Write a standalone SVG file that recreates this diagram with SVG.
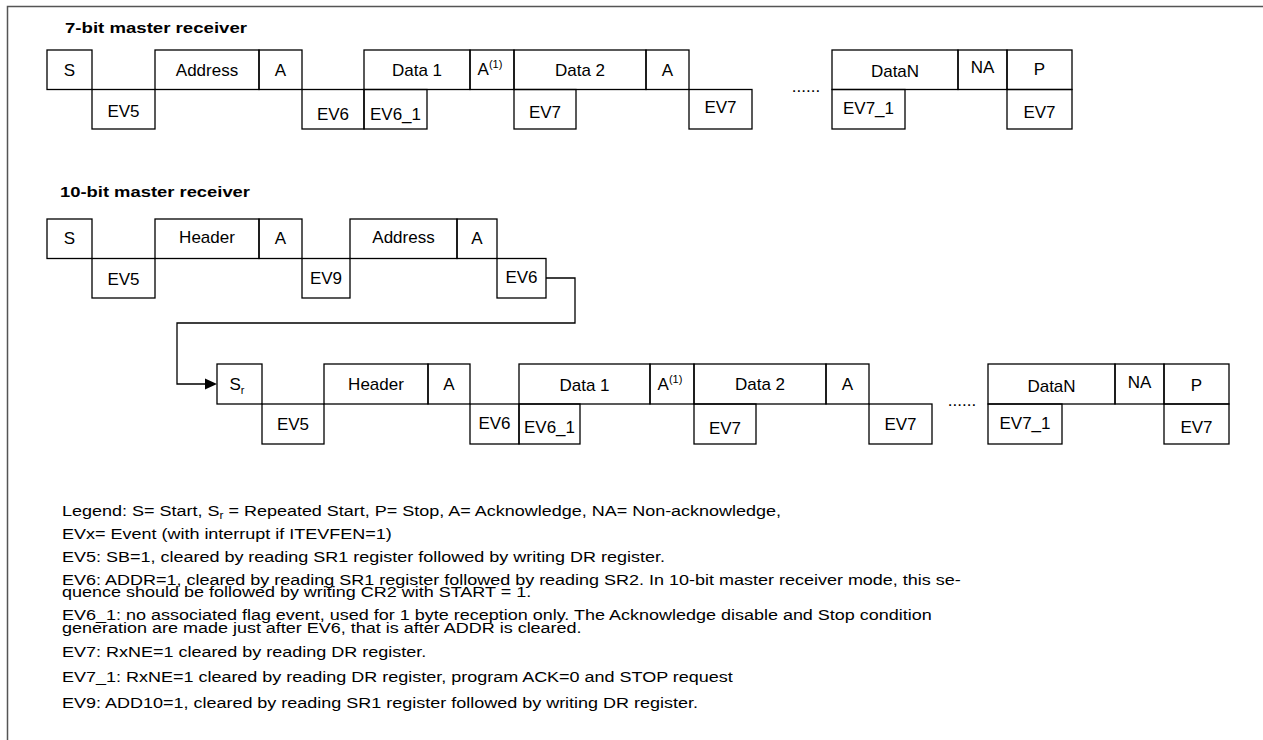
<svg xmlns="http://www.w3.org/2000/svg" width="1263" height="740" viewBox="0 0 1263 740">
<style>
.frame{fill:none;stroke:#555;stroke-width:1.5}
.box{fill:none;stroke:#000;stroke-width:1.3}
.conn{fill:none;stroke:#000;stroke-width:1.3}
text{font-family:"Liberation Sans",Arial,sans-serif;fill:#000}
.lbl{font-size:17px;text-anchor:middle}
.sup{font-size:11px}
.title{font-size:15px;font-weight:bold}
.leg{font-size:15px}
</style>
<rect x="0" y="0" width="1263" height="740" fill="#fff"/>
<path class="frame" d="M7.5,740 V6.5 H1263"/>

<text class="title" x="65" y="33" textLength="182" lengthAdjust="spacingAndGlyphs">7-bit master receiver</text>
<text class="title" x="60" y="197" textLength="190" lengthAdjust="spacingAndGlyphs">10-bit master receiver</text>

<g id="row7">
<g id="r1-S"><rect class="box" x="47" y="50" width="45" height="39.5"/><text class="lbl" x="69.5" y="76">S</text></g>
<g id="r1-EV5"><rect class="box" x="92" y="89.5" width="63" height="39.5"/><text class="lbl" x="123.5" y="117">EV5</text></g>
<g id="r1-Address"><rect class="box" x="155" y="50" width="104" height="39.5"/><text class="lbl" x="207" y="76">Address</text></g>
<g id="r1-A1"><rect class="box" x="259" y="50" width="43" height="39.5"/><text class="lbl" x="280.5" y="76">A</text></g>
<g id="r1-EV6"><rect class="box" x="302" y="89.5" width="62" height="39.5"/><text class="lbl" x="333" y="120">EV6</text></g>
<g id="r1-Data1"><rect class="box" x="364" y="50" width="106" height="39.5"/><text class="lbl" x="417" y="76">Data 1</text></g>
<g id="r1-EV6_1"><rect class="box" x="364" y="89.5" width="63" height="39.5"/><text class="lbl" x="395.5" y="120">EV6_1</text></g>
<g id="r1-A1sup"><rect class="box" x="470" y="50" width="44" height="39.5"/><text class="lbl" x="490" y="75">A<tspan class="sup" dy="-7">(1)</tspan></text></g>
<g id="r1-Data2"><rect class="box" x="514" y="50" width="132" height="39.5"/><text class="lbl" x="580" y="76">Data 2</text></g>
<g id="r1-EV7a"><rect class="box" x="514" y="89.5" width="62" height="39.5"/><text class="lbl" x="545" y="118">EV7</text></g>
<g id="r1-A2"><rect class="box" x="646" y="50" width="43" height="39.5"/><text class="lbl" x="667.5" y="76">A</text></g>
<g id="r1-EV7b"><rect class="box" x="689" y="89.5" width="63" height="39.5"/><text class="lbl" x="720.5" y="113">EV7</text></g>
<text class="lbl" x="806" y="92">......</text>
<g id="r1-DataN"><rect class="box" x="832" y="50" width="126" height="39.5"/><text class="lbl" x="895" y="77">DataN</text></g>
<g id="r1-NA"><rect class="box" x="958" y="50" width="49" height="39.5"/><text class="lbl" x="982.5" y="73">NA</text></g>
<g id="r1-P"><rect class="box" x="1007" y="50" width="65" height="39.5"/><text class="lbl" x="1039.5" y="75">P</text></g>
<g id="r1-EV7_1"><rect class="box" x="832" y="89.5" width="73" height="39.5"/><text class="lbl" x="868.5" y="114">EV7_1</text></g>
<g id="r1-EV7c"><rect class="box" x="1007" y="89.5" width="65" height="39.5"/><text class="lbl" x="1039.5" y="118">EV7</text></g>
</g>

<g id="row10">
<g id="r2-S"><rect class="box" x="47" y="219" width="45" height="39.5"/><text class="lbl" x="69.5" y="244">S</text></g>
<g id="r2-EV5"><rect class="box" x="92" y="258.5" width="63" height="39.5"/><text class="lbl" x="123.5" y="285">EV5</text></g>
<g id="r2-Header"><rect class="box" x="155" y="219" width="104" height="39.5"/><text class="lbl" x="207" y="243">Header</text></g>
<g id="r2-A1"><rect class="box" x="259" y="219" width="43" height="39.5"/><text class="lbl" x="280.5" y="244">A</text></g>
<g id="r2-EV9"><rect class="box" x="302" y="258.5" width="48" height="39.5"/><text class="lbl" x="326" y="284">EV9</text></g>
<g id="r2-Address"><rect class="box" x="350" y="219" width="107" height="39.5"/><text class="lbl" x="403.5" y="243">Address</text></g>
<g id="r2-A2"><rect class="box" x="457" y="219" width="40" height="39.5"/><text class="lbl" x="477" y="244">A</text></g>
<g id="r2-EV6"><rect class="box" x="497" y="258.5" width="49" height="39.5"/><text class="lbl" x="521.5" y="283">EV6</text></g>
</g>

<g id="connectors">
<path class="conn" d="M546,278 H575 V323 H177 V384 H206"/>
<polygon points="217,384 205,378.5 205,389.5" fill="#000"/>
</g>

<g id="rowSr">
<g id="r3-Sr"><rect class="box" x="217" y="364" width="45" height="40"/><text class="lbl" x="237" y="390">S<tspan class="sup" dy="4">r</tspan></text></g>
<g id="r3-EV5"><rect class="box" x="262" y="404" width="62" height="40"/><text class="lbl" x="293" y="430">EV5</text></g>
<g id="r3-Header"><rect class="box" x="324" y="364" width="104" height="40"/><text class="lbl" x="376" y="390">Header</text></g>
<g id="r3-A1"><rect class="box" x="428" y="364" width="42" height="40"/><text class="lbl" x="449" y="390">A</text></g>
<g id="r3-EV6"><rect class="box" x="470" y="404" width="49" height="40"/><text class="lbl" x="494.5" y="429">EV6</text></g>
<g id="r3-Data1"><rect class="box" x="519" y="364" width="131" height="40"/><text class="lbl" x="584.5" y="391">Data 1</text></g>
<g id="r3-EV6_1"><rect class="box" x="519" y="404" width="61" height="40"/><text class="lbl" x="549.5" y="433">EV6_1</text></g>
<g id="r3-A1sup"><rect class="box" x="650" y="364" width="44" height="40"/><text class="lbl" x="670" y="390">A<tspan class="sup" dy="-7">(1)</tspan></text></g>
<g id="r3-Data2"><rect class="box" x="694" y="364" width="132" height="40"/><text class="lbl" x="760" y="390">Data 2</text></g>
<g id="r3-EV7a"><rect class="box" x="694" y="404" width="62" height="40"/><text class="lbl" x="725" y="434">EV7</text></g>
<g id="r3-A2"><rect class="box" x="826" y="364" width="43" height="40"/><text class="lbl" x="847.5" y="390">A</text></g>
<g id="r3-EV7b"><rect class="box" x="869" y="404" width="63" height="40"/><text class="lbl" x="900.5" y="430">EV7</text></g>
<text class="lbl" x="962" y="406">......</text>
<g id="r3-DataN"><rect class="box" x="988" y="364" width="127" height="40"/><text class="lbl" x="1051.5" y="392">DataN</text></g>
<g id="r3-NA"><rect class="box" x="1115" y="364" width="49" height="40"/><text class="lbl" x="1139.5" y="388">NA</text></g>
<g id="r3-P"><rect class="box" x="1164" y="364" width="65" height="40"/><text class="lbl" x="1196.5" y="391">P</text></g>
<g id="r3-EV7_1"><rect class="box" x="988" y="404" width="74" height="40"/><text class="lbl" x="1025" y="429">EV7_1</text></g>
<g id="r3-EV7c"><rect class="box" x="1164" y="404" width="65" height="40"/><text class="lbl" x="1196.5" y="433">EV7</text></g>
</g>

<g id="legend" transform="translate(62,0) scale(1.2,1)">
<text class="leg" x="0" y="516">Legend: S= Start, S<tspan font-size="10" dy="3">r</tspan><tspan dy="-3"> = Repeated Start, P= Stop, A= Acknowledge, NA= Non-acknowledge,</tspan></text>
<text class="leg" x="0" y="539">EVx= Event (with interrupt if ITEVFEN=1)</text>
<text class="leg" x="0" y="562">EV5: SB=1, cleared by reading SR1 register followed by writing DR register.</text>
<text class="leg" x="0" y="585">EV6: ADDR=1, cleared by reading SR1 register followed by reading SR2. In 10-bit master receiver mode, this se-</text>
<text class="leg" x="0" y="597">quence should be followed by writing CR2 with START = 1.</text>
<text class="leg" x="0" y="620">EV6_1: no associated flag event, used for 1 byte reception only. The Acknowledge disable and Stop condition</text>
<text class="leg" x="0" y="633">generation are made just after EV6, that is after ADDR is cleared.</text>
<text class="leg" x="0" y="657">EV7: RxNE=1 cleared by reading DR register.</text>
<text class="leg" x="0" y="682">EV7_1: RxNE=1 cleared by reading DR register, program ACK=0 and STOP request</text>
<text class="leg" x="0" y="708">EV9: ADD10=1, cleared by reading SR1 register followed by writing DR register.</text>
</g>
</svg>
